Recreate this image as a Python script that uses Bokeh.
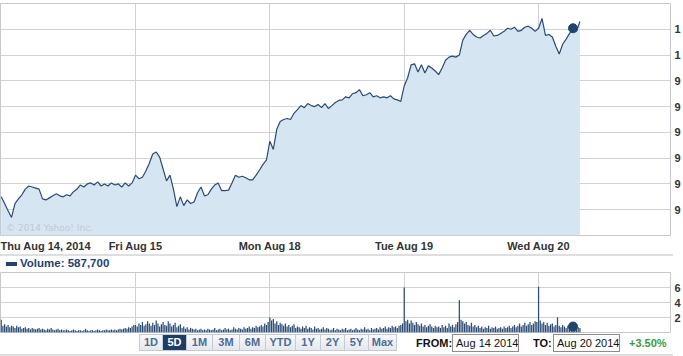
from bokeh.plotting import figure
from bokeh.models import Range1d, FixedTicker, Label, Div
from bokeh.layouts import column
from bokeh.embed import file_html
from bokeh.resources import INLINE

# ---------------- data ----------------
day_labels = ["Thu Aug 14, 2014", "Fri Aug 15", "Mon Aug 18", "Tue Aug 19", "Wed Aug 20"]
SLOTS = 39  # 10-minute price slots per trading day

thu_price = [97.25, 97.12, 96.98, 96.85, 97.12, 97.21, 97.29, 97.40, 97.46, 97.44,
             97.42, 97.40, 97.21, 97.19, 97.23, 97.27, 97.31, 97.27, 97.25, 97.29,
             97.27, 97.35, 97.40, 97.48, 97.44, 97.50, 97.52, 97.48, 97.54, 97.46,
             97.50, 97.46, 97.52, 97.48, 97.50, 97.44, 97.52, 97.46, 97.52]
fri_price = [97.67, 97.60, 97.63, 97.75, 97.90, 98.08, 98.12, 98.02, 97.79, 97.56,
             97.67, 97.40, 97.06, 97.25, 97.08, 97.19, 97.12, 97.15, 97.33, 97.44,
             97.27, 97.29, 97.40, 97.48, 97.52, 97.37, 97.37, 97.38, 97.52, 97.67,
             97.63, 97.65, 97.62, 97.58, 97.58, 97.67, 97.77, 97.88, 97.96]
mon_price = [98.33, 98.17, 98.56, 98.71, 98.75, 98.77, 98.75, 98.87, 98.94, 99.02,
             98.98, 99.06, 99.02, 99.00, 99.04, 98.98, 99.06, 98.96, 99.02, 99.08,
             99.12, 99.13, 99.19, 99.17, 99.25, 99.27, 99.33, 99.21, 99.23, 99.27,
             99.19, 99.21, 99.17, 99.19, 99.17, 99.21, 99.15, 99.13, 99.10]
tue_price = [99.40, 99.56, 99.81, 99.83, 99.67, 99.81, 99.65, 99.79, 99.75, 99.69,
             99.62, 99.75, 99.90, 99.96, 99.98, 99.96, 100.00, 100.29, 100.40, 100.48,
             100.40, 100.35, 100.33, 100.38, 100.42, 100.48, 100.37, 100.38, 100.42, 100.46,
             100.52, 100.50, 100.54, 100.46, 100.48, 100.54, 100.56, 100.52, 100.46]
wed_price = [100.52, 100.71, 100.38, 100.40, 100.35, 100.17, 100.02, 100.21, 100.31, 100.42,
             100.52, 100.46, 100.65]

# volume, 5-minute bars (units of 100k shares)
thu_vol = [1.7, 0.9, 1.1, 0.8, 1.0, 0.7, 0.9, 0.8, 0.6, 0.9,
           0.7, 0.8, 0.5, 0.6, 0.7, 0.5, 0.6, 0.4, 0.6, 0.5,
           0.4, 0.5, 0.6, 0.4, 0.5, 0.4, 0.3, 0.5, 0.4, 0.6,
           0.4, 0.3, 0.4, 0.5, 0.3, 0.4, 0.3, 0.3, 0.4, 0.3,
           0.2, 0.3, 0.4, 0.3, 0.2, 0.3, 0.3, 0.2, 0.3, 0.5,
           0.3, 0.2, 0.3, 0.3, 0.2, 0.3, 0.4, 0.3, 0.2, 0.3,
           0.3, 0.4, 0.3, 0.3, 0.4, 0.3, 0.4, 0.3, 0.4, 0.5,
           0.4, 0.5, 0.6, 0.5, 0.7, 0.6, 0.8, 1.0]
fri_vol = [1.0, 0.8, 1.2, 1.0, 1.4, 0.9, 1.1, 1.5, 1.2, 0.9,
           1.3, 1.0, 1.6, 1.2, 0.8, 1.1, 1.4, 1.0, 0.9, 1.5,
           1.2, 0.8, 1.0, 1.3, 0.7, 0.9, 1.1, 0.6, 0.8, 0.5,
           0.7, 0.4, 0.6, 0.5, 0.4, 0.5, 0.3, 0.4, 0.5, 0.3,
           0.4, 0.3, 0.5, 0.4, 0.3, 0.4, 0.6, 0.3, 0.4, 0.5,
           0.3, 0.4, 0.6, 0.4, 0.5, 0.3, 0.4, 0.7, 0.5, 0.4,
           0.6, 0.5, 0.4, 0.7, 0.5, 0.6, 0.8, 0.5, 0.7, 0.6,
           0.9, 0.7, 0.8, 1.0, 0.8, 1.2, 1.0, 1.4]
mon_vol = [2.0, 1.6, 1.8, 1.2, 1.5, 1.0, 1.3, 1.1, 0.9, 1.2,
           0.8, 1.0, 0.7, 0.9, 1.1, 0.6, 0.8, 0.7, 0.5, 0.8,
           0.6, 0.9, 0.5, 0.7, 0.6, 0.4, 0.8, 0.5, 0.6, 0.4,
           0.5, 0.7, 0.4, 0.6, 0.5, 0.3, 0.4, 0.6, 0.3, 0.5,
           0.4, 0.3, 0.5, 0.4, 0.6, 0.3, 0.4, 0.5, 0.3, 0.4,
           0.6, 0.4, 0.3, 0.5, 0.4, 0.7, 0.4, 0.5, 0.3, 0.6,
           0.4, 0.5, 0.6, 0.4, 0.7, 0.5, 0.6, 0.8, 0.5, 0.7,
           0.6, 0.9, 0.7, 0.8, 0.6, 0.9, 1.0, 1.2]
tue_vol = [6.0, 1.5, 1.7, 1.2, 1.6, 1.3, 1.0, 1.4, 1.1, 0.9,
           1.2, 0.8, 1.0, 0.7, 0.9, 1.1, 0.8, 0.6, 0.9, 0.7,
           0.8, 0.6, 1.0, 0.7, 0.9, 0.6, 1.2, 0.8, 1.0, 0.7,
           1.1, 1.4, 4.3, 1.7, 1.5, 1.2, 1.4, 1.0, 0.9, 1.3,
           0.8, 1.0, 0.7, 0.9, 0.6, 0.8, 0.5, 0.7, 0.6, 0.9,
           0.5, 0.7, 0.6, 0.8, 0.5, 0.6, 0.7, 0.5, 0.8, 0.6,
           0.7, 0.9, 0.6, 0.8, 1.0, 0.7, 0.9, 1.2, 0.8, 1.0,
           1.3, 0.9, 1.1, 1.4, 1.0, 1.2, 1.5, 1.4]
wed_vol = [6.1, 1.6, 1.2, 1.4, 1.0, 1.3, 0.9, 1.1, 1.2, 0.8,
           1.0, 2.0, 0.9, 0.7, 1.0, 0.8, 0.6, 0.9, 0.7, 0.8,
           0.8, 0.5, 0.8, 0.7, 0.6]

price_ticks = [97.0, 97.5, 98.0, 98.5, 99.0, 99.5, 100.0, 100.5]
price_tick_labels = ["9", "9", "9", "9", "9", "9", "1", "1"]   # as visible (cut off)
vol_ticks = [2, 4, 6]
vol_tick_labels = ["2", "4", "6"]
price_range = (96.5, 101.0)
vol_range = (0, 8)

hover_day, hover_price_idx, hover_vol_idx = 4, 10, 20
volume_text = "Volume: 587,700"
copyright_text = "\u00a9 2014 Yahoo! Inc."
buttons = ["1D", "5D", "1M", "3M", "6M", "YTD", "1Y", "2Y", "5Y", "Max"]
selected_button = "5D"
from_date, to_date, change_text = "Aug 14 2014", "Aug 20 2014", "+3.50%"

# ---------------- build series ----------------
price_days = [thu_price, fri_price, mon_price, tue_price, wed_price]
vol_days = [thu_vol, fri_vol, mon_vol, tue_vol, wed_vol]
px, py = [], []
for d, arr in enumerate(price_days):
    for i, v in enumerate(arr):
        px.append(d * SLOTS + i)
        py.append(v)
vx, vy = [], []
for d, arr in enumerate(vol_days):
    for j, v in enumerate(arr):
        vx.append(d * SLOTS + j * 0.5)
        vy.append(v)
day_starts = [d * SLOTS for d in range(len(day_labels))]
# first day's label is left-aligned at the chart edge, so its tick sits inside the day
first_label_pos = day_starts[0] + 12.9
label_ticks = [first_label_pos] + day_starts[1:]

LINE = "#2a4b74"
FILL = "#d6e5f2"
GRID = "#cfd3d8"
FONT = "Liberation Sans"

xr = Range1d(-0.2, 194.3)

# ---------------- price figure ----------------
p = figure(width=683, height=254, x_range=xr, y_range=Range1d(*price_range),
           output_backend="svg", toolbar_location=None, y_axis_location="right",
           min_border_left=0, min_border_right=10, min_border_top=3, min_border_bottom=17)
p.background_fill_color = "white"
p.border_fill_color = "white"
p.outline_line_color = "#c5c9ce"
p.varea(x=px, y1=price_range[0], y2=py, fill_color=FILL)
p.line(px, py, line_color=LINE, line_width=1.2)
p.scatter([px[sum(len(a) for a in price_days[:hover_day]) + hover_price_idx]],
          [price_days[hover_day][hover_price_idx]], size=9, color="#1f4470")

p.xaxis.ticker = FixedTicker(ticks=label_ticks)
p.xaxis.major_label_overrides = {t: l for t, l in zip(label_ticks, day_labels)}
p.yaxis.ticker = FixedTicker(ticks=price_ticks)
p.yaxis.major_label_overrides = {t: l for t, l in zip(price_ticks, price_tick_labels)}
for ax in (p.xaxis[0], p.yaxis[0]):
    ax.axis_line_color = None
    ax.major_tick_line_color = None
    ax.minor_tick_line_color = None
    ax.major_tick_out = 0
    ax.major_tick_in = 0
    ax.major_label_standoff = 4
    ax.major_label_text_font = FONT
    ax.major_label_text_font_size = "11px"
    ax.major_label_text_font_style = "bold"
    ax.major_label_text_color = "#333333"
p.xgrid.ticker = FixedTicker(ticks=day_starts[1:])
p.ygrid.ticker = FixedTicker(ticks=price_ticks)
p.xgrid.grid_line_color = GRID
p.ygrid.grid_line_color = GRID

p.add_layout(Label(x=day_starts[0], y=price_range[0], x_offset=5, y_offset=3,
                   text=copyright_text, text_align="left", text_baseline="bottom",
                   text_font="DejaVu Sans", text_font_size="9px",
                   text_color="#c3c9d1"))

# ---------------- volume header ----------------
header = Div(width=683, height=17, margin=(0, 0, 0, 0), text=f"""
<div style="position:relative;width:683px;height:17px;overflow:hidden;">
 <div style="position:absolute;left:0;top:0px;width:673px;height:2px;background:#dedede;"></div>
 <div style="position:absolute;left:6px;top:8px;width:11px;height:4px;background:#1f4470;"></div>
 <div style="position:absolute;left:20px;top:3px;font-family:'{FONT}';font-weight:bold;font-size:11.5px;line-height:13px;color:#1f3f6e;white-space:nowrap;">{volume_text}</div>
</div>""")

# ---------------- volume figure ----------------
v = figure(width=683, height=62, x_range=xr, y_range=Range1d(*vol_range),
           output_backend="svg", toolbar_location=None, y_axis_location="right",
           x_axis_location=None,
           min_border_left=0, min_border_right=10, min_border_top=1, min_border_bottom=1)
v.background_fill_color = "white"
v.border_fill_color = "white"
v.outline_line_color = "#c5c9ce"
v.vbar(x=vx, top=vy, bottom=0, width=0.36, fill_color=LINE, line_color=None)
v.scatter([vx[sum(len(a) for a in vol_days[:hover_day]) + hover_vol_idx]],
          [vol_days[hover_day][hover_vol_idx]], size=9, color="#1f4470")
v.yaxis.ticker = FixedTicker(ticks=vol_ticks)
v.yaxis.major_label_overrides = {t: l for t, l in zip(vol_ticks, vol_tick_labels)}
ax = v.yaxis[0]
ax.axis_line_color = None
ax.major_tick_line_color = None
ax.minor_tick_line_color = None
ax.major_tick_out = 0
ax.major_tick_in = 0
ax.major_label_standoff = 4
ax.major_label_text_font = FONT
ax.major_label_text_font_size = "11px"
ax.major_label_text_font_style = "bold"
ax.major_label_text_color = "#333333"
v.xgrid.ticker = FixedTicker(ticks=day_starts[1:])
v.ygrid.ticker = FixedTicker(ticks=vol_ticks)
v.xgrid.grid_line_color = GRID
v.ygrid.grid_line_color = GRID

# ---------------- range buttons / dates ----------------
widths = [24, 24, 26, 27, 26, 30, 25, 24, 24, 28]
btn_html = ""
for k, (b, w) in enumerate(zip(buttons, widths)):
    sel = b == selected_button
    bg = "#1d3d66" if sel else "linear-gradient(#f8f9fb,#e4e8ed)"
    col = "#ffffff" if sel else "#4d6d98"
    bl = "1px solid #c4cbd4" if k == 0 else "none"
    btn_html += (f'<div style="box-sizing:border-box;width:{w}px;height:17px;line-height:15px;'
                 f'text-align:center;background:{bg};color:{col};border:1px solid #c4cbd4;'
                 f'border-left:{bl};font-weight:bold;font-size:11px;">{b}</div>')

controls = Div(width=683, height=23, margin=(0, 0, 0, 0), text=f"""
<div style="position:relative;width:683px;height:23px;overflow:hidden;font-family:'{FONT}';">
 <div style="position:absolute;left:139px;top:1px;display:flex;">{btn_html}</div>
 <div style="position:absolute;left:416px;top:3px;font-weight:bold;font-size:11px;line-height:14px;color:#111;">FROM:</div>
 <div style="position:absolute;left:452px;top:1px;box-sizing:border-box;width:67px;height:18px;border:1px solid #8c8c8c;font-size:11px;line-height:16px;padding-left:3px;color:#111;white-space:nowrap;">{from_date}</div>
 <div style="position:absolute;left:533px;top:3px;font-weight:bold;font-size:11px;line-height:14px;color:#111;">TO:</div>
 <div style="position:absolute;left:553px;top:1px;box-sizing:border-box;width:67px;height:18px;border:1px solid #8c8c8c;font-size:11px;line-height:16px;padding-left:3px;color:#111;white-space:nowrap;">{to_date}</div>
 <div style="position:absolute;left:629px;top:3px;font-weight:bold;font-size:11px;line-height:14px;color:#3a9a3a;">{change_text}</div>
 <div style="position:absolute;left:0;top:21px;width:673px;height:2px;background:#dedede;"></div>
</div>""")

layout = column(p, header, v, controls, spacing=0)
open("out.html", "w").write(file_html(layout, INLINE))
